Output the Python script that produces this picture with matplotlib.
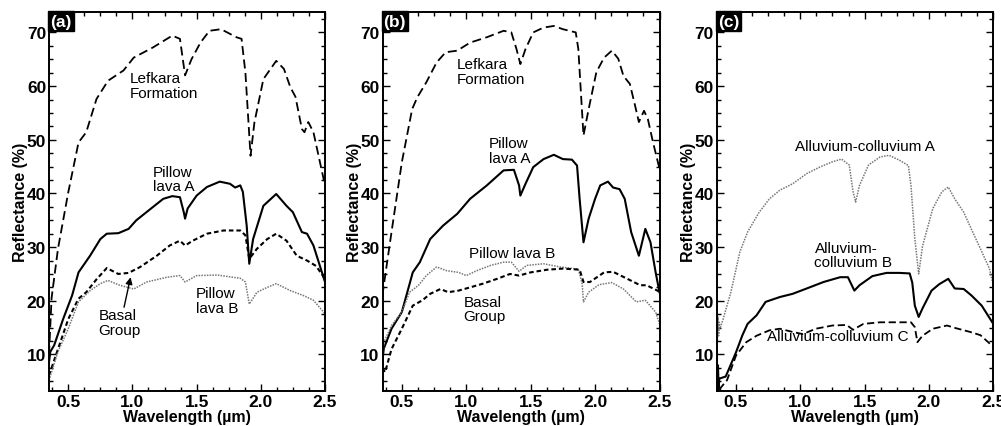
import matplotlib
matplotlib.use("Agg")
import matplotlib.pyplot as plt
from matplotlib.ticker import MultipleLocator

plt.rcParams['font.family'] = ['Liberation Sans', 'DejaVu Sans']

# ---- panel (a) ----
a_lef_x = [0.35, 0.37, 0.42, 0.50, 0.58, 0.64, 0.72, 0.81, 0.93, 1.01, 1.16, 1.31, 1.37, 1.41, 1.46,
           1.53, 1.60, 1.69, 1.81, 1.85, 1.88, 1.92, 1.95, 2.02, 2.12, 2.18, 2.23, 2.27, 2.32, 2.34,
           2.37, 2.41, 2.45, 2.50]
a_lef_y = [10.0, 20.5, 29.7, 40.2, 49.5, 51.4, 57.6, 61.0, 62.9, 65.3, 67.2, 69.4, 68.8, 62.0, 65.0,
           68.1, 70.3, 70.6, 69.1, 68.8, 62.5, 47.0, 53.2, 61.3, 64.7, 63.2, 59.8, 58.0, 52.0, 51.4,
           53.3, 51.4, 47.0, 41.5]
a_pa_x = [0.35, 0.36, 0.39, 0.46, 0.53, 0.58, 0.67, 0.75, 0.80, 0.89, 0.97, 1.03, 1.14, 1.24, 1.31,
          1.37, 1.40, 1.41, 1.43, 1.50, 1.58, 1.68, 1.76, 1.80, 1.84, 1.86, 1.89, 1.91, 1.94, 2.02,
          2.12, 2.20, 2.25, 2.32, 2.36, 2.41, 2.50]
a_pa_y = [8.5, 10.5, 11.7, 16.6, 21.0, 25.3, 28.4, 31.5, 32.5, 32.6, 33.4, 35.0, 37.1, 39.0, 39.5,
          39.3, 36.5, 35.3, 37.2, 39.6, 41.2, 42.2, 41.8, 41.1, 41.5, 40.3, 34.0, 26.9, 31.5, 37.7,
          39.9, 37.7, 36.5, 32.8, 32.5, 30.3, 23.5]
a_bg_x = [0.35, 0.42, 0.50, 0.58, 0.64, 0.72, 0.80, 0.89, 0.97, 1.06, 1.19, 1.29, 1.37, 1.41, 1.47,
          1.58, 1.71, 1.84, 1.88, 1.91, 1.97, 2.05, 2.12, 2.20, 2.28, 2.36, 2.43, 2.50]
a_bg_y = [6.1, 11.0, 16.6, 20.4, 21.6, 24.0, 26.1, 25.0, 25.2, 26.3, 28.4, 30.3, 31.2, 30.3, 31.2,
          32.5, 33.1, 33.1, 32.2, 27.8, 29.7, 31.5, 32.5, 31.2, 28.4, 27.5, 26.5, 24.1]
a_pb_x = [0.35, 0.42, 0.50, 0.58, 0.67, 0.75, 0.81, 0.90, 1.01, 1.11, 1.27, 1.37, 1.41, 1.50, 1.66,
          1.84, 1.88, 1.91, 1.97, 2.05, 2.12, 2.23, 2.33, 2.41, 2.50]
a_pb_y = [5.2, 10.5, 14.8, 19.8, 21.9, 23.2, 23.8, 22.9, 22.2, 23.5, 24.4, 24.7, 23.5, 24.7, 24.8,
          24.2, 23.5, 19.4, 21.6, 22.5, 23.2, 21.9, 21.0, 20.1, 17.6]

# ---- panel (b) ----
b_lef_x = [0.35, 0.36, 0.42, 0.50, 0.58, 0.62, 0.69, 0.77, 0.84, 0.93, 1.03, 1.16, 1.29, 1.35, 1.39,
           1.42, 1.46, 1.52, 1.60, 1.68, 1.75, 1.85, 1.87, 1.89, 1.91, 1.95, 2.01, 2.07, 2.13, 2.18,
           2.22, 2.27, 2.31, 2.34, 2.38, 2.41, 2.45, 2.50]
b_lef_y = [21.0, 22.9, 32.8, 45.8, 55.7, 57.9, 60.7, 64.4, 66.3, 66.6, 68.1, 69.1, 70.3, 70.0, 66.9,
           64.1, 66.9, 70.0, 70.9, 71.2, 70.6, 70.0, 66.9, 58.8, 50.8, 55.7, 62.6, 65.3, 66.6, 65.1,
           61.9, 60.4, 56.4, 53.3, 55.4, 53.8, 49.5, 44.6]
b_pa_x = [0.35, 0.36, 0.42, 0.50, 0.585, 0.64, 0.72, 0.82, 0.93, 1.03, 1.16, 1.29, 1.37, 1.41, 1.42,
          1.46, 1.52, 1.60, 1.68, 1.75, 1.82, 1.86, 1.88, 1.91, 1.95, 2.00, 2.04, 2.10, 2.14, 2.19,
          2.23, 2.28, 2.34, 2.39, 2.43, 2.47, 2.50]
b_pa_y = [9.0, 11.1, 14.8, 17.9, 25.3, 27.2, 31.5, 34.0, 36.2, 39.0, 41.5, 44.3, 44.4, 41.5, 39.6,
          41.8, 44.9, 46.4, 47.2, 46.4, 46.3, 45.2, 39.0, 30.9, 35.3, 39.0, 41.5, 42.2, 41.1, 40.8,
          39.0, 32.8, 28.4, 33.4, 30.9, 25.3, 21.6]
b_pb_x = [0.35, 0.36, 0.42, 0.50, 0.56, 0.63, 0.69, 0.77, 0.85, 0.94, 1.00, 1.08, 1.19, 1.29, 1.35,
          1.41, 1.47, 1.60, 1.73, 1.87, 1.90, 1.91, 1.95, 2.03, 2.13, 2.22, 2.32, 2.39, 2.47, 2.50]
b_pb_y = [8.0, 12.3, 15.4, 17.9, 21.6, 22.9, 24.7, 26.3, 25.6, 25.3, 24.7, 25.6, 26.6, 27.2, 27.2,
          25.5, 26.6, 26.9, 26.3, 25.9, 23.1, 19.8, 21.6, 23.0, 23.4, 22.2, 19.8, 20.1, 17.9, 15.7]
b_bg_x = [0.35, 0.37, 0.42, 0.50, 0.585, 0.66, 0.72, 0.80, 0.86, 0.94, 1.03, 1.13, 1.24, 1.34, 1.41,
          1.50, 1.63, 1.75, 1.88, 1.91, 1.96, 2.07, 2.14, 2.25, 2.35, 2.40, 2.50]
b_bg_y = [7.5, 6.7, 11.0, 14.8, 19.1, 20.1, 21.3, 22.2, 21.6, 21.9, 22.5, 23.2, 24.1, 25.0, 24.7,
          25.3, 25.8, 26.0, 25.8, 23.5, 23.5, 25.3, 25.4, 24.1, 22.9, 22.9, 21.7]

# ---- panel (c) ----
c_aa_x = [0.350, 0.355, 0.360, 0.365, 0.370, 0.375, 0.40, 0.46, 0.53, 0.59, 0.68, 0.76, 0.84, 0.94,
          1.05, 1.15, 1.25, 1.32, 1.38, 1.41, 1.43, 1.46, 1.53, 1.62, 1.69, 1.77, 1.84, 1.86, 1.89,
          1.92, 1.95, 2.03, 2.10, 2.15, 2.20, 2.27, 2.34, 2.40, 2.47, 2.50]
c_aa_y = [18.5, 12.5, 17.0, 13.5, 16.0, 14.8, 16.6, 21.6, 29.1, 32.8, 36.5, 39.0, 40.6, 41.8,
          43.7, 44.9, 45.9, 46.4, 45.3, 40.3, 38.4, 41.5, 45.3, 46.8, 47.1, 46.2, 45.2, 41.5, 31.6,
          25.0, 30.2, 37.2, 40.3, 41.2, 39.0, 36.5, 32.8, 29.7, 26.0, 22.9]
c_ab_x = [0.350, 0.355, 0.360, 0.365, 0.37, 0.42, 0.50, 0.55, 0.59, 0.66, 0.73, 0.84, 0.94, 1.05,
          1.18, 1.31, 1.37, 1.40, 1.42, 1.46, 1.56, 1.67, 1.77, 1.85, 1.87, 1.89, 1.92, 1.95, 2.02,
          2.08, 2.15, 2.20, 2.27, 2.33, 2.41, 2.50]
c_ab_y = [10.5, 3.0, 8.0, 3.5, 5.5, 5.9, 10.4, 13.6, 15.7, 17.3, 19.8, 20.7, 21.3, 22.3,
          23.5, 24.4, 24.4, 22.9, 21.9, 22.9, 24.6, 25.2, 25.2, 25.1, 23.4, 19.1, 17.0, 18.6, 21.9,
          23.1, 24.1, 22.3, 22.2, 21.0, 19.1, 15.7]
c_ac_x = [0.37, 0.43, 0.50, 0.58, 0.66, 0.76, 0.84, 0.94, 1.02, 1.12, 1.25, 1.36, 1.41, 1.49, 1.62,
          1.77, 1.86, 1.89, 1.91, 1.95, 2.03, 2.14, 2.21, 2.32, 2.40, 2.46, 2.50]
c_ac_y = [3.5, 5.2, 9.8, 12.3, 13.5, 14.5, 14.8, 14.2, 13.8, 14.8, 15.4, 15.5, 14.6, 15.7, 16.0,
          16.0, 16.0, 15.1, 12.3, 13.5, 14.8, 15.4, 14.9, 14.2, 13.6, 12.3, 11.4]

# line styles
solid = dict(color='black', lw=1.5, ls='-')
longdash = dict(color='black', lw=1.3, ls=(0, (5, 2.5)))
shortdash = dict(color='black', lw=1.5, ls=(0, (2.2, 1.4)))
meddash = dict(color='black', lw=1.3, ls=(0, (4, 2)))
dotted = dict(color='#777777', lw=1.1, ls=(0, (1, 0.8)))

fig = plt.figure(figsize=(10.01, 4.27), dpi=100)
W, H = 1001, 427
lefts = [49, 382.5, 716.7]
widths = [276, 277, 276.6]
axes = [fig.add_axes([l / W, (H - 392) / H, w / W, 379 / H]) for l, w in zip(lefts, widths)]

axes[0].plot(a_lef_x, a_lef_y, **longdash)
axes[0].plot(a_pa_x, a_pa_y, **solid)
axes[0].plot(a_bg_x, a_bg_y, **shortdash)
axes[0].plot(a_pb_x, a_pb_y, **dotted)

axes[1].plot(b_lef_x, b_lef_y, **longdash)
axes[1].plot(b_pa_x, b_pa_y, **solid)
axes[1].plot(b_pb_x, b_pb_y, **dotted)
axes[1].plot(b_bg_x, b_bg_y, **shortdash)

axes[2].plot(c_aa_x, c_aa_y, **dotted)
axes[2].plot(c_ab_x, c_ab_y, **solid)
axes[2].plot(c_ac_x, c_ac_y, **meddash)

tf = 11
axes[0].text(0.98, 60.1, 'Lefkara\nFormation', fontsize=tf, va='center', linespacing=1.05)
axes[0].text(1.157, 42.7, 'Pillow\nlava A', fontsize=tf, va='center', linespacing=1.05)
axes[0].text(0.734, 16.0, 'Basal\nGroup', fontsize=tf, va='center', linespacing=1.05)
axes[0].text(1.495, 20.1, 'Pillow\nlava B', fontsize=tf, va='center', linespacing=1.05)
axes[0].annotate('', xy=(0.99, 24.9), xytext=(0.93, 18.3),
                 arrowprops=dict(arrowstyle='-|>', color='black', lw=1.0, mutation_scale=10))

axes[1].text(0.927, 62.7, 'Lefkara\nFormation', fontsize=tf, va='center', linespacing=1.05)
axes[1].text(1.173, 48.0, 'Pillow\nlava A', fontsize=tf, va='center', linespacing=1.05)
axes[1].text(1.025, 28.9, 'Pillow lava B', fontsize=tf, va='center')
axes[1].text(0.979, 18.5, 'Basal\nGroup', fontsize=tf, va='center', linespacing=1.05)

axes[2].text(0.962, 48.9, 'Alluvium-colluvium A', fontsize=tf, va='center')
axes[2].text(1.11, 28.5, 'Alluvium-\ncolluvium B', fontsize=tf, va='center', linespacing=1.05)
axes[2].text(0.739, 13.4, 'Alluvium-colluvium C', fontsize=tf, va='center')

for ax, tag in zip(axes, ['(a)', '(b)', '(c)']):
    ax.set_xlim(0.35, 2.5)
    ax.set_ylim(3.2, 73.8)
    ax.xaxis.set_major_locator(MultipleLocator(0.5))
    ax.xaxis.set_minor_locator(MultipleLocator(0.125))
    ax.yaxis.set_major_locator(MultipleLocator(10))
    ax.yaxis.set_minor_locator(MultipleLocator(2.5))
    ax.set_xticks([0.5, 1.0, 1.5, 2.0, 2.5])
    ax.set_xticklabels(['0.5', '1.0', '1.5', '2.0', '2.5'])
    ax.set_yticks([10, 20, 30, 40, 50, 60, 70])
    ax.tick_params(which='both', direction='in', top=True, right=True, width=1.0)
    ax.tick_params(which='major', length=5, labelsize=12.5, pad=2)
    ax.tick_params(which='minor', length=3)
    for lab in ax.get_xticklabels() + ax.get_yticklabels():
        lab.set_fontweight('bold')
    for s in ax.spines.values():
        s.set_linewidth(1.4)
    ax.set_xlabel('Wavelength (µm)', fontsize=11.5, fontweight='bold', labelpad=0)
    ax.set_ylabel('Reflectance (%)', fontsize=11.5, fontweight='bold', labelpad=-1)
    ax.text(0.004, 0.996, tag, transform=ax.transAxes, ha='left', va='top', color='white',
            fontsize=12.5, fontweight='bold',
            bbox=dict(boxstyle='square,pad=0.12', fc='black', ec='black'))

fig.savefig('out.png', dpi=100)
